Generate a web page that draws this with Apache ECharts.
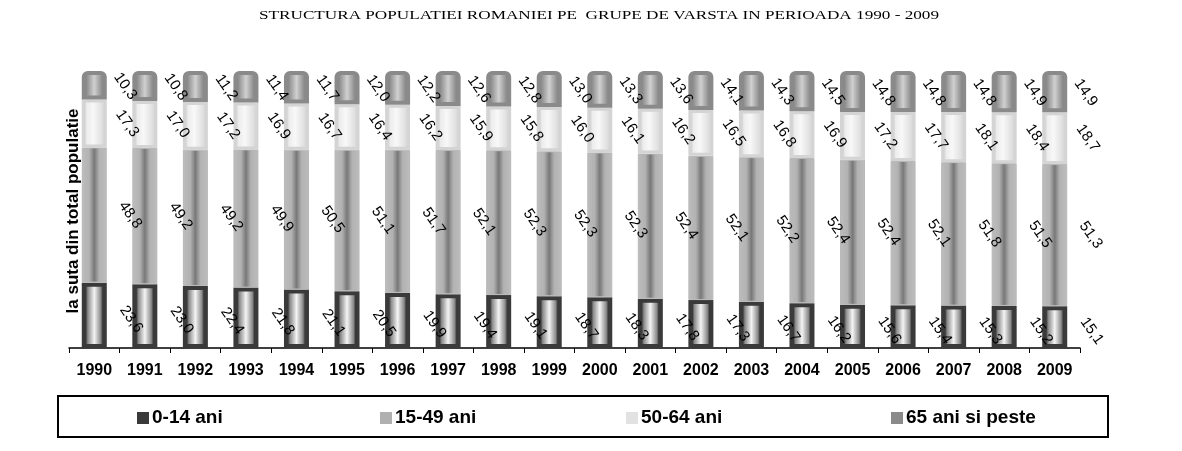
<!DOCTYPE html>
<html>
<head>
<meta charset="utf-8">
<script src="https://cdn.jsdelivr.net/npm/echarts@6/dist/echarts.min.js"></script>
<style>
html,body{margin:0;padding:0;background:#fff;}
#chart{width:1182px;height:451px;}
</style>
</head>
<body>
<div id="chart"></div>
<script>
var years = ['1990','1991','1992','1993','1994','1995','1996','1997','1998','1999','2000','2001','2002','2003','2004','2005','2006','2007','2008','2009'];
var seriesNames = ['0-14 ani','15-49 ani','50-64 ani','65 ani si peste'];
var age0_14 = [23.6,23.0,22.4,21.8,21.1,20.5,19.9,19.4,19.1,18.7,18.3,17.8,17.3,16.7,16.2,15.6,15.4,15.3,15.2,15.1];
var age15_49 = [48.8,49.2,49.2,49.9,50.5,51.1,51.7,52.1,52.3,52.3,52.3,52.4,52.1,52.2,52.4,52.4,52.1,51.8,51.5,51.3];
var age50_64 = [17.3,17.0,17.2,16.9,16.7,16.4,16.2,15.9,15.8,16.0,16.1,16.2,16.5,16.8,16.9,17.2,17.7,18.1,18.4,18.7];
var age65p = [10.3,10.8,11.2,11.4,11.7,12.0,12.2,12.6,12.8,13.0,13.3,13.6,14.1,14.3,14.5,14.8,14.8,14.8,14.9,14.9];
var titleText = 'STRUCTURA POPULATIEI ROMANIEI PE  GRUPE DE VARSTA IN PERIOADA 1990 - 2009';
var yTitle = 'la suta din total populatie';

function hGrad(stops){
  return {type:'linear',x:0,y:0,x2:1,y2:0,colorStops:stops.map(function(s){return {offset:s[0],color:s[1]};})};
}
var styles = [
  {color:hGrad([[0,'#3a3a3a'],[0.16,'#3a3a3a'],[0.24,'#8a8a8a'],[0.5,'#f4f4f4'],[0.76,'#8a8a8a'],[0.84,'#3a3a3a'],[1,'#3a3a3a']]),borderColor:'#3a3a3a',borderWidth:4},
  {color:hGrad([[0,'#bdbdbd'],[0.3,'#b2b2b2'],[0.5,'#787878'],[0.7,'#b2b2b2'],[1,'#bdbdbd']]),borderColor:'#b8b8b8',borderWidth:1},
  {color:hGrad([[0,'#d8d8d8'],[0.14,'#d8d8d8'],[0.2,'#ececec'],[0.45,'#f8f8f8'],[0.8,'#e0e0e0'],[0.86,'#d8d8d8'],[1,'#d8d8d8']]),borderColor:'#d4d4d4',borderWidth:3},
  {color:hGrad([[0,'#8a8a8a'],[0.18,'#8a8a8a'],[0.5,'#d0d0d0'],[0.82,'#8a8a8a'],[1,'#8a8a8a']]),borderColor:'#8a8a8a',borderWidth:4,borderRadius:[4,4,0,0]}
];
var iconColors = ['#3a3a3a','#b0b0b0','#e2e2e2','#8a8a8a'];
var screenOffsets = [[37,4],[36,0],[33,0],[31,1]];
var labelRotate = -55;
var legendLefts = [137,380,626,891];
var dataSets = [age0_14,age15_49,age50_64,age65p];

// label offset is applied in the rotated frame: convert the wanted screen shift
function toLocal(o){
  var t = -labelRotate * Math.PI / 180, c = Math.cos(t), s = Math.sin(t);
  return [o[0]*c + o[1]*s, -o[0]*s + o[1]*c];
}

var chart = echarts.init(document.getElementById('chart'));
var series = dataSets.map(function(d,i){
  return {
    name: seriesNames[i], type:'bar', stack:'total', barWidth:25,
    data: d, itemStyle: styles[i],
    label:{show:true, position:'inside', offset:toLocal(screenOffsets[i]), rotate:labelRotate,
      align:'center', verticalAlign:'middle',
      fontFamily:'Liberation Sans, Arial, sans-serif', fontSize:15, color:'#000',
      formatter:function(p){return p.value.toFixed(1).replace('.',',');}},
    emphasis:{disabled:true}
  };
});
var legends = seriesNames.map(function(n,i){
  return {data:[n], left:legendLefts[i], top:408, padding:0, itemWidth:12, itemHeight:12, itemGap:4,
    icon:'rect', itemStyle:{color:iconColors[i], borderWidth:0},
    textStyle:{fontFamily:'Liberation Sans, Arial, sans-serif', fontSize:19, fontWeight:'bold', color:'#000', lineHeight:20, padding:[0,0,0,-2]},
    selectedMode:false};
});
chart.setOption({
  animation:false,
  backgroundColor:'#fff',
  grid:{left:69, right:102, top:71, bottom:103},
  legend: legends,
  xAxis:{type:'category', data:years,
    axisLine:{lineStyle:{color:'#000',width:1.5}},
    axisTick:{show:true, length:5, lineStyle:{color:'#000'}},
    axisLabel:{fontFamily:'Liberation Sans, Arial, sans-serif', fontSize:16, fontWeight:'bold', color:'#000', margin:15}},
  yAxis:{type:'value', min:0, max:100, show:false, splitLine:{show:false}},
  series: series,
  graphic:[
    {type:'text', x:599, y:16, scaleX:1.32, style:{text:titleText, align:'center', verticalAlign:'middle', fontFamily:'Liberation Serif, Times New Roman, serif', fontSize:13, fill:'#000'}},
    {type:'text', x:73, y:211, rotation:Math.PI/2, style:{text:yTitle, align:'center', verticalAlign:'middle', fontFamily:'Liberation Sans, Arial, sans-serif', fontSize:17, fontWeight:'bold', fill:'#000'}},
    {type:'rect', shape:{x:58, y:396, width:1050, height:41}, style:{fill:'none', stroke:'#000', lineWidth:2}, z:-1}
  ]
});
</script>
</body>
</html>
